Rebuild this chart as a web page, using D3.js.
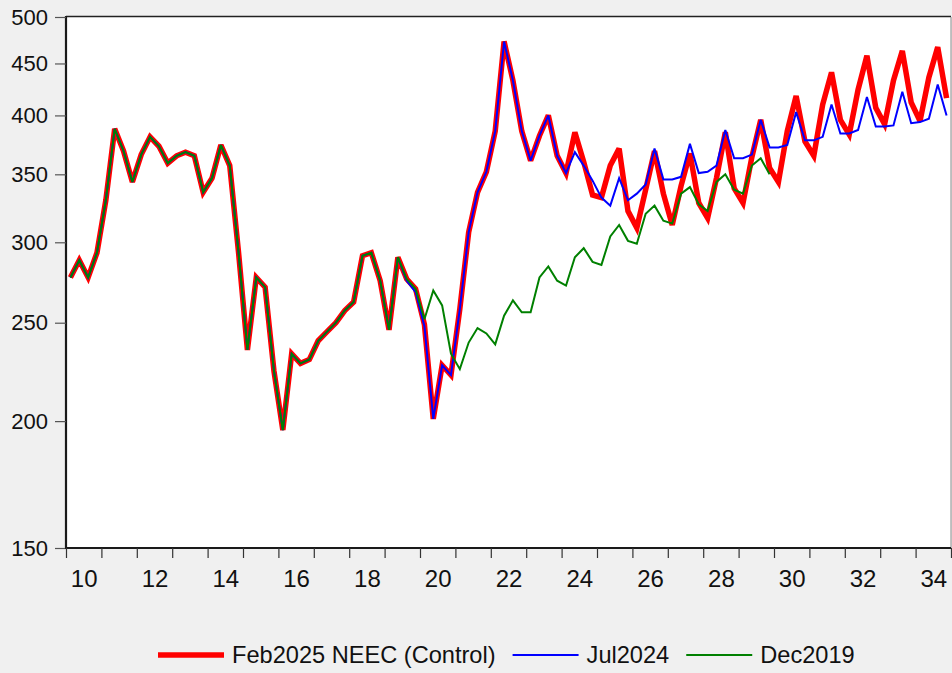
<!DOCTYPE html>
<html>
<head>
<meta charset="utf-8">
<script src="https://cdn.jsdelivr.net/npm/d3@7"></script>
<style>
  html, body { margin: 0; padding: 0; background: #f0f0f0; }
  svg { display: block; font-family: Arial, "Liberation Sans", sans-serif; }
</style>
</head>
<body>
<svg id="chart" width="952" height="673"></svg>
<script>
// ---- data (quarterly, starting 2010Q1) ----
const startYear = 2010;
const seriesNames = ["Feb2025 NEEC (Control)", "Jul2024", "Dec2019"];

const feb2025 = [
  277, 288, 277, 293, 330, 388, 369, 344, 366, 381,
  373, 359, 365, 368, 365, 336, 347, 374, 357, 293,
  235, 277, 271, 224, 196, 233, 228, 230, 240, 245,
  250, 257, 262, 291, 293, 275, 246, 290, 276, 270,
  249, 201, 227, 222, 258, 307, 336, 352, 386, 473,
  433, 386, 361, 382, 400, 365, 351, 385, 360, 334,
  332, 357, 371, 322, 310, 338, 369, 335, 312, 341,
  367, 328, 317, 347, 385, 339, 328, 364, 396, 355,
  344, 386, 418, 377, 365, 410, 441, 396, 383, 424,
  458, 407, 392, 433, 463, 412, 395, 436, 467, 416
];

const jul2024 = [
  277, 288, 277, 293, 330, 388, 369, 344, 366, 381,
  373, 359, 365, 368, 365, 336, 347, 374, 357, 293,
  235, 277, 271, 224, 196, 233, 228, 230, 240, 245,
  250, 257, 262, 291, 293, 275, 246, 290, 275, 268,
  248, 201, 227, 222, 258, 307, 336, 352, 386, 473,
  433, 386, 361, 382, 400, 365, 351, 368, 357, 345,
  332, 326, 347, 330, 335, 342, 371, 346, 346, 348,
  375, 351, 352, 357, 387, 363, 363, 366, 396, 372,
  372, 374, 403, 378, 378, 381, 410, 384, 384, 387,
  417, 390, 390, 391, 422, 393, 394, 397, 429, 400
];

const dec2019 = [
  277, 288, 277, 293, 330, 388, 369, 344, 366, 381,
  373, 359, 365, 368, 365, 336, 347, 374, 357, 293,
  235, 277, 271, 224, 196, 233, 228, 230, 240, 245,
  250, 257, 262, 291, 293, 275, 246, 290, 276, 270,
  252, 269, 260, 233, 225, 239, 247, 244, 238, 254,
  263, 256, 256, 277, 284, 275, 272, 290, 296, 287,
  285, 304, 312, 301, 299, 320, 326, 315, 313, 335,
  340, 327, 322, 344, 350, 338, 335, 357, 363, 350
];

const yTicks = [150, 200, 250, 300, 350, 400, 450, 500];
const xTickYears = [2010, 2011, 2012, 2013, 2014, 2015, 2016, 2017, 2018, 2019, 2020, 2021, 2022,
  2023, 2024, 2025, 2026, 2027, 2028, 2029, 2030, 2031, 2032, 2033, 2034, 2035];
const xLabelYears = [2010, 2012, 2014, 2016, 2018, 2020, 2022, 2024, 2026, 2028, 2030, 2032, 2034];
const xLabels = ["10", "12", "14", "16", "18", "20", "22", "24", "26", "28", "30", "32", "34"];

const colors = ["#ff0000", "#0000ff", "#008000"];
const widths = [5.5, 2, 2];

// ---- layout ----
const svg = d3.select("#chart");
const L = 66, R = 951, T = 17, B = 548;

const x = d3.scaleLinear().domain([2010, 2035]).range([L, R]);
const y = d3.scaleLog().domain([150, 500]).range([B, T]);

// plot background
svg.append("rect").attr("x", L).attr("y", T).attr("width", R - L).attr("height", B - T)
  .attr("fill", "#ffffff");

// series
const toPoints = arr => arr.map((v, i) => ({ t: startYear + (i + 0.5) / 4, v }));
const line = d3.line().x(d => x(d.t)).y(d => y(d.v));
const allSeries = [feb2025, jul2024, dec2019];

svg.append("clipPath").attr("id", "clip").append("rect")
  .attr("x", L).attr("y", T - 2).attr("width", R - L).attr("height", B - T + 2);

allSeries.forEach((s, k) => {
  svg.append("path")
    .datum(toPoints(s))
    .attr("clip-path", "url(#clip)")
    .attr("fill", "none")
    .attr("stroke", colors[k])
    .attr("stroke-width", widths[k])
    .attr("stroke-linejoin", "miter")
    .attr("stroke-miterlimit", 3)
    .attr("d", line);
});

// frame: top and right
svg.append("line").attr("x1", L).attr("x2", R).attr("y1", T - 0.5).attr("y2", T - 0.5)
  .attr("stroke", "#222").attr("stroke-width", 1.5);
svg.append("line").attr("x1", R).attr("x2", R).attr("y1", T).attr("y2", B)
  .attr("stroke", "#888").attr("stroke-width", 1);

// y axis
const yAxis = d3.axisLeft(y).tickValues(yTicks).tickFormat(d3.format("d")).tickSize(11).tickPadding(7);
const gy = svg.append("g").attr("transform", `translate(${L},0)`).call(yAxis);
gy.select(".domain").attr("stroke", "#1a1a1a").attr("stroke-width", 2.2)
  .attr("d", `M0,${T - 1}V${B + 1}`);
gy.selectAll(".tick line").attr("stroke", "#555").attr("stroke-width", 1.2);
gy.selectAll(".tick text").attr("font-size", 22).attr("fill", "#111")
  .attr("font-family", "Arial, 'Liberation Sans', sans-serif");

// x axis tick marks (year boundaries)
const xAxis = d3.axisBottom(x).tickValues(xTickYears).tickFormat("").tickSize(10);
const gx = svg.append("g").attr("transform", `translate(0,${B})`).call(xAxis);
gx.select(".domain").attr("stroke", "#1a1a1a").attr("stroke-width", 2.2)
  .attr("d", `M${L - 1},0H${R}`);
gx.selectAll(".tick line").attr("stroke", "#333").attr("stroke-width", 1.2);

// x labels centered within year
const xl = d3.axisBottom(x).tickValues(xLabelYears.map(d => d + 0.5))
  .tickFormat((d, i) => xLabels[i]).tickSize(0).tickPadding(22);
const gxl = svg.append("g").attr("transform", `translate(0,${B})`).call(xl);
gxl.select(".domain").remove();
gxl.selectAll(".tick text").attr("font-size", 24).attr("fill", "#111")
  .attr("font-family", "Arial, 'Liberation Sans', sans-serif");

// legend
const legend = svg.append("g").attr("font-size", 23.6).attr("fill", "#111");
let lx = 158;
const ly = 655;
seriesNames.forEach((name, k) => {
  legend.append("line").attr("x1", lx).attr("x2", lx + 66).attr("y1", ly).attr("y2", ly)
    .attr("stroke", colors[k]).attr("stroke-width", k === 0 ? 5.5 : 2);
  const t = legend.append("text").attr("x", lx + 74).attr("y", ly + 8).text(name);
  const w = t.node().getComputedTextLength();
  lx = lx + 74 + w + 17;
});
</script>
</body>
</html>
